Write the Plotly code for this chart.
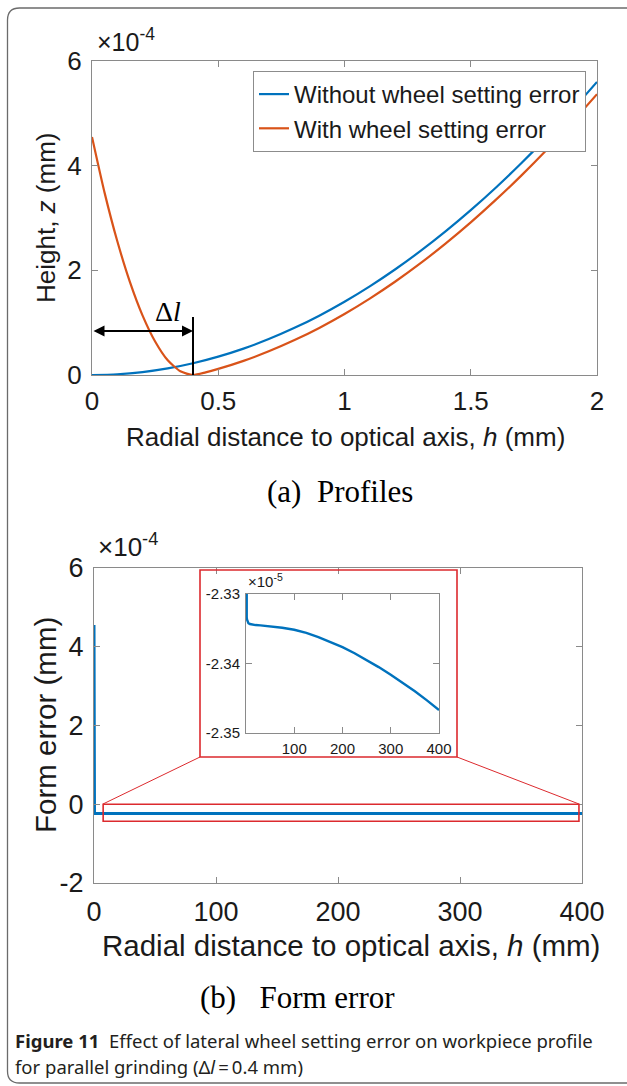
import plotly.graph_objects as go

W, H = 627, 1086

# ---- data -------------------------------------------------------------
# (a) profiles, height in mm
h_without = [0.0, 0.1, 0.2, 0.3, 0.4, 0.5, 0.6, 0.7, 0.8, 0.9, 1.0,
             1.1, 1.2, 1.3, 1.4, 1.5, 1.6, 1.7, 1.8, 1.9, 2.0]
z_without = [0.0, 0.014e-4, 0.056e-4, 0.126e-4, 0.224e-4, 0.35e-4, 0.504e-4,
             0.686e-4, 0.896e-4, 1.134e-4, 1.40e-4, 1.694e-4, 2.016e-4,
             2.366e-4, 2.744e-4, 3.15e-4, 3.584e-4, 4.046e-4, 4.536e-4,
             5.054e-4, 5.60e-4]

h_with = [0.0, 0.05, 0.1, 0.15, 0.2, 0.25, 0.3, 0.35, 0.4, 0.45, 0.5,
          0.6, 0.7, 0.8, 0.9, 1.0, 1.1, 1.2, 1.3, 1.4, 1.5, 1.6, 1.7,
          1.8, 1.9, 2.0]
z_with = [4.55e-4, 3.48e-4, 2.56e-4, 1.78e-4, 1.14e-4, 0.64e-4, 0.28e-4,
          0.07e-4, 0.0, 0.05e-4, 0.116e-4, 0.27e-4, 0.452e-4, 0.662e-4,
          0.90e-4, 1.166e-4, 1.46e-4, 1.782e-4, 2.132e-4, 2.51e-4,
          2.916e-4, 3.35e-4, 3.81e-4, 4.30e-4, 4.82e-4, 5.366e-4]

# (b) form error in mm
h_err = [0.0, 0.1, 0.2, 0.3, 0.4, 1, 1.5, 2, 3, 5, 8, 12, 20, 30, 50, 75,
         100, 125, 150, 175, 200, 225, 250, 275, 300, 325, 350, 375, 400]
form_err = [4.55e-4, 2.55e-4, 1.08e-4, 0.15e-4, -2.3310e-5, -2.3300e-5,
            -2.33335e-5, -2.33365e-5, -2.33395e-5, -2.33420e-5, -2.33432e-5,
            -2.33440e-5, -2.33447e-5, -2.33452e-5, -2.33462e-5, -2.33485e-5,
            -2.33515e-5, -2.33560e-5, -2.33620e-5, -2.33688e-5, -2.33765e-5,
            -2.33852e-5, -2.33948e-5, -2.34052e-5, -2.34162e-5, -2.34278e-5,
            -2.34400e-5, -2.34530e-5, -2.34670e-5]

dl = 0.4  # lateral wheel setting error, mm

top_xticks = [0, 0.5, 1, 1.5, 2]
top_yticks = [0, 2e-4, 4e-4, 6e-4]
bot_xticks = [0, 100, 200, 300, 400]
bot_yticks = [-2e-4, 0, 2e-4, 4e-4, 6e-4]
ins_xticks = [100, 200, 300, 400]
ins_yticks = [-2.35e-5, -2.34e-5, -2.33e-5]

BLUE = "#0072BD"
ORANGE = "#D95319"
RED = "#DC2A2E"
AXC = "#8a8a8a"
TXT = "#1a1a1a"
SANS = "Liberation Sans, Arial, sans-serif"
SERIF = "Liberation Serif, Times New Roman, serif"
CAP = "Noto Sans, sans-serif"


def px(x):
    return x / W


def py(y):
    return 1 - y / H


fig = go.Figure()

fig.add_trace(go.Scatter(x=h_without, y=z_without, mode="lines",
                         name="Without wheel setting error",
                         line=dict(color=BLUE, width=2.2, shape="spline", smoothing=0.8),
                         xaxis="x", yaxis="y"))
fig.add_trace(go.Scatter(x=h_with, y=z_with, mode="lines",
                         name="With wheel setting error",
                         line=dict(color=ORANGE, width=2.2, shape="spline", smoothing=0.6),
                         xaxis="x", yaxis="y"))
fig.add_trace(go.Scatter(x=h_err, y=form_err, mode="lines", showlegend=False,
                         line=dict(color=BLUE, width=3), xaxis="x2", yaxis="y2"))
fig.add_trace(go.Scatter(x=h_err, y=form_err, mode="lines", showlegend=False,
                         line=dict(color=BLUE, width=2.4), xaxis="x3", yaxis="y3"))


def axis(domain, rng, tickvals, ticktext, size, anchor, standoff):
    return dict(domain=domain, range=rng, tickvals=tickvals, ticktext=ticktext,
                ticks="inside", ticklen=6, tickcolor=AXC, showline=True,
                linecolor=AXC, linewidth=1, mirror="ticks", showgrid=False,
                zeroline=False, anchor=anchor, ticklabelstandoff=standoff,
                automargin=False,
                tickfont=dict(family=SANS, size=size, color=TXT))


fig.update_layout(
    width=W, height=H, margin=dict(l=0, r=0, t=0, b=0, autoexpand=False),
    paper_bgcolor="white", plot_bgcolor="white",
    xaxis=axis([px(92), px(597)], [0, 2], top_xticks,
               ["0", "0.5", "1", "1.5", "2"], 26, "y", 3),
    yaxis=axis([py(375), py(61)], [0, 6e-4], top_yticks,
               ["0", "2", "4", "6"], 26, "x", 4),
    xaxis2=axis([px(94), px(582)], [0, 400], bot_xticks,
                [str(v) for v in bot_xticks], 27, "y2", 5),
    yaxis2=axis([py(883), py(568)], [-2e-4, 6e-4], bot_yticks,
                ["-2", "0", "2", "4", "6"], 27, "x2", 4),
    xaxis3=axis([px(246), px(439)], [0, 400], ins_xticks,
                [str(v) for v in ins_xticks], 15, "y3", 2),
    yaxis3=axis([py(733), py(594)], [-2.35e-5, -2.33e-5], ins_yticks,
                ["-2.35", "-2.34", "-2.33"], 15, "x3", 2),
    legend=dict(x=px(586), xanchor="right", y=py(71), yanchor="top",
                bgcolor="white", bordercolor="#8c8c8c", borderwidth=1,
                font=dict(family=SANS, size=24, color=TXT),
                itemwidth=30, tracegroupgap=0),
    showlegend=True,
)


def label(x, y, text, size, family=SANS, xanchor="center", yanchor="middle",
          angle=0, color=TXT):
    return dict(x=px(x), y=py(y), xref="paper", yref="paper", xanchor=xanchor,
                yanchor=yanchor, showarrow=False, text=text, textangle=angle,
                font=dict(family=family, size=size, color=color))


ann = [
    # exponent labels
    label(95, 58, "×10<sup>-4</sup>", 25, xanchor="left", yanchor="bottom"),
    label(96, 564, "×10<sup>-4</sup>", 26, xanchor="left", yanchor="bottom"),
    label(246, 592, "×10<sup>-5</sup>", 15, xanchor="left", yanchor="bottom"),
    # axis titles
    label(345, 437, "Radial distance to optical axis, <i>h</i> (mm)", 26),
    label(46, 218, "Height, <i>z</i> (mm)", 26, angle=-90),
    label(351, 945, "Radial distance to optical axis, <i>h</i> (mm)", 29.5),
    label(45, 725, "Form error (mm)", 29.5, angle=-90),
    # sub-captions
    label(340, 492, "(a)\u00a0\u00a0Profiles", 31, family=SERIF, color="black"),
    label(297, 997, "(b)\u00a0\u00a0\u00a0Form error", 31, family=SERIF, color="black"),
    # figure caption
    label(13, 1040,
          "<b>Figure 11</b>\u00a0\u00a0Effect of lateral wheel setting error on workpiece profile",
          18.5, family=CAP, xanchor="left", color="#231f20"),
    label(13, 1066, "for parallel grinding (Δ<i>l</i>\u2009=\u20090.4 mm)",
          18.5, family=CAP, xanchor="left", color="#231f20"),
    # delta-l dimension arrow
    dict(x=dl, y=0.84e-4, ax=0, ay=0.84e-4, xref="x", yref="y",
         axref="x", ayref="y", showarrow=True, text="",
         arrowhead=2, startarrowhead=2, arrowside="end+start",
         arrowwidth=2, arrowsize=1.1, startarrowsize=1.1,
         arrowcolor="black", standoff=0, startstandoff=0),
    dict(x=0.30, y=1.22e-4, xref="x", yref="y", showarrow=False,
         xanchor="center", yanchor="middle",
         text="Δ<i>l</i>", font=dict(family=SERIF, size=28, color="black")),
]
fig.update_layout(annotations=ann)

shapes = [
    # tick line marking delta-l
    dict(type="line", xref="x", yref="y", x0=dl, x1=dl, y0=0, y1=1.11e-4,
         line=dict(color="black", width=2)),
    # zoom window on the form error curve
    dict(type="rect", xref="x2", yref="y2", x0=7.5, x1=397.5,
         y0=-0.43e-4, y1=0.0, line=dict(color=RED, width=1.6)),
    # inset frame and connectors
    dict(type="rect", xref="paper", yref="paper", x0=px(200), x1=px(457),
         y0=py(757), y1=py(570), line=dict(color=RED, width=1.6)),
    dict(type="line", xref="paper", yref="paper", x0=px(103), y0=py(804),
         x1=px(200), y1=py(757), line=dict(color=RED, width=1)),
    dict(type="line", xref="paper", yref="paper", x0=px(579), y0=py(804),
         x1=px(457), y1=py(757), line=dict(color=RED, width=1)),
]
# rounded page frame, open on the right
r = 12
L, T, B, R = 7.5, 8.0, 1083.0, 627.0
path = (f"M {px(R)},{py(T)} L {px(L + r)},{py(T)} Q {px(L)},{py(T)} {px(L)},{py(T + r)} "
        f"L {px(L)},{py(B - r)} Q {px(L)},{py(B)} {px(L + r)},{py(B)} L {px(R)},{py(B)}")
shapes.append(dict(type="path", xref="paper", yref="paper", path=path,
                   line=dict(color="#6b6b6b", width=1.3)))
fig.update_layout(shapes=shapes)

fig.write_html("out.html",
               post_script="document.body.style.margin='0';"
                           "document.body.style.overflow='hidden';")
